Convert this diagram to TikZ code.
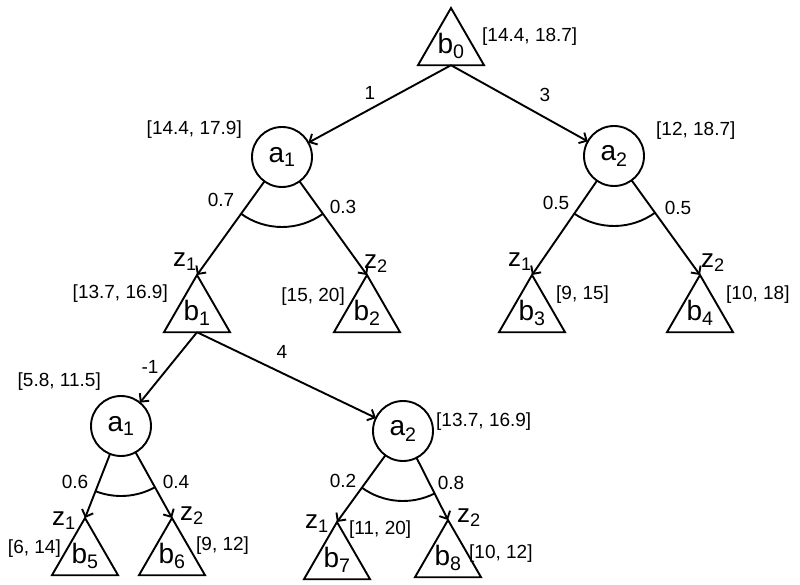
\documentclass[tikz,border=0pt]{standalone}
\usepackage{fontspec}
\setmainfont{Liberation Sans}
\usetikzlibrary{shapes.geometric,arrows.meta,calc}

\begin{document}
\begin{tikzpicture}[
    x=1pt, y=1pt,
    tri/.style={regular polygon, regular polygon sides=3, draw, line width=1.9pt, minimum size=71pt, inner sep=0pt, outer sep=0pt, anchor=north, font=\fontsize{28}{30}\selectfont},
    act/.style={circle, draw, line width=1.9pt, minimum size=60pt, inner sep=0pt, outer sep=0pt, font=\fontsize{28}{30}\selectfont},
    val/.style={font=\fontsize{19}{22}\selectfont, inner sep=0pt},
    obs/.style={font=\fontsize{26}{28}\selectfont, inner sep=0pt},
    arrow/.style={-{Straight Barb[length=6pt,width=12pt]}, line width=1.9pt},
    sweep/.style={line width=1.9pt}
]
\useasboundingbox (0,0) rectangle (800,584);

% Root belief
\node[tri] (b0) at (451,576) {b\textsubscript{0}};
\node[val, anchor=west] (v0) at (482,547) {[14.4, 18.7]};

% First level actions
\node[act] (a1) at (282,427) {a\textsubscript{1}};
\node[act] (a2) at (614,428) {a\textsubscript{2}};
\node[val, anchor=east] (v1) at (242,454) {[14.4, 17.9]};
\node[val, anchor=west] (v2) at (656,453) {[12, 18.7]};

\draw[arrow] (b0.south) -- (a1);
\draw[arrow] (b0.south) -- (a2);
\node[val] (r1) at (370,491) {1};
\node[val] (r2) at (545,489) {3};

% Observation beliefs
\node[tri] (b1) at (197,309) {b\textsubscript{1}};
\node[tri] (b2) at (367,309) {b\textsubscript{2}};
\node[tri] (b3) at (532,309) {b\textsubscript{3}};
\node[tri] (b4) at (700,309) {b\textsubscript{4}};

\draw[arrow] (a1) -- (b1.north);
\draw[arrow] (a1) -- (b2.north);
\draw[arrow] (a2) -- (b3.north);
\draw[arrow] (a2) -- (b4.north);
\draw[sweep] (a1) ++(234.2:70pt) arc[start angle=234.2, end angle=305.8, radius=70pt];
\draw[sweep] (a2) ++(235.4:70pt) arc[start angle=235.4, end angle=305.9, radius=70pt];

\node[val] (p1) at (221,384) {0.7};
\node[val] (p2) at (343,377) {0.3};
\node[val] (p3) at (556,381) {0.5};
\node[val] (p4) at (678,376) {0.5};
\node[obs] (z1) at (185,322) {z\textsubscript{1}};
\node[obs] (z2) at (376,320) {z\textsubscript{2}};
\node[obs] (z3) at (520,322) {z\textsubscript{1}};
\node[obs] (z4) at (713,321) {z\textsubscript{2}};

\node[val, anchor=east] (v3) at (168,290) {[13.7, 16.9]};
\node[val, anchor=east] (v4) at (345,287) {[15, 20]};
\node[val, anchor=west] (v5) at (556,289) {[9, 15]};
\node[val, anchor=west] (v6) at (726,289) {[10, 18]};

% Second level actions
\node[act] (a3) at (121,158) {a\textsubscript{1}};
\node[act] (a4) at (403,153) {a\textsubscript{2}};
\node[val, anchor=east] (v7) at (101,202) {[5.8, 11.5]};
\node[val, anchor=west] (v8) at (436,162) {[13.7, 16.9]};

\draw[arrow] (b1.south) -- (a3);
\draw[arrow] (b1.south) -- (a4);
\node[val] (r3) at (150,217) {-1};
\node[val] (r4) at (282,232) {4};

% Leaf beliefs
\node[tri] (b5) at (85,66) {b\textsubscript{5}};
\node[tri] (b6) at (172,66) {b\textsubscript{6}};
\node[tri] (b7) at (337,62) {b\textsubscript{7}};
\node[tri] (b8) at (448,64) {b\textsubscript{8}};

\draw[arrow] (a3) -- (b5.north);
\draw[arrow] (a3) -- (b6.north);
\draw[arrow] (a4) -- (b7.north);
\draw[arrow] (a4) -- (b8.north);
\draw[sweep] (a3) ++(248.6:70pt) arc[start angle=248.6, end angle=299.0, radius=70pt];
\draw[sweep] (a4) ++(234.0:70pt) arc[start angle=234.0, end angle=296.8, radius=70pt];

\node[val] (p5) at (75,102) {0.6};
\node[val] (p6) at (176,102) {0.4};
\node[val] (p7) at (343,103) {0.2};
\node[val] (p8) at (451,101) {0.8};
\node[obs] (z5) at (64,63) {z\textsubscript{1}};
\node[obs] (z6) at (192,68) {z\textsubscript{2}};
\node[obs] (z7) at (317,60) {z\textsubscript{1}};
\node[obs] (z8) at (469,66) {z\textsubscript{2}};

\node[val, anchor=east] (v9) at (61,35) {[6, 14]};
\node[val, anchor=west] (v10) at (196,38) {[9, 12]};
\node[val, anchor=west] (v11) at (349,54) {[11, 20]};
\node[val, anchor=west] (v12) at (469,30) {[10, 12]};

\end{tikzpicture}
\end{document}
